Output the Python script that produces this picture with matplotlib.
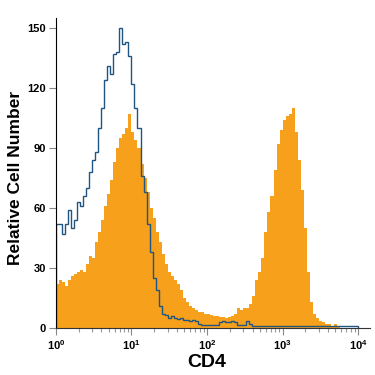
import numpy as np
import matplotlib
matplotlib.use("Agg")
import matplotlib.pyplot as plt
from matplotlib.ticker import LogLocator, LogFormatterMathtext, NullFormatter

plt.rcParams['font.family'] = ['Liberation Sans', 'DejaVu Sans']

# 100 channels, 25 per decade, from 10^0 to 10^4
edges = np.logspace(0, 4, 101)

# CD4 stained cells (orange, filled)
cd4 = [22, 24, 23, 21, 24, 26, 27, 28, 29, 28,
       32, 36, 35, 43, 48, 54, 61, 67, 74, 83,
       90, 95, 97, 100, 107, 98, 94, 90, 82, 75,
       68, 60, 55, 48, 43, 37, 32, 28, 26, 24,
       22, 19, 15, 13, 11, 10, 9, 8, 8, 7,
       7, 6.5, 6, 6, 5.5, 5.5, 5, 5.5, 6, 7,
       10, 9, 10, 10, 12, 16, 24, 28, 35, 48,
       58, 66, 79, 92, 99, 104, 106, 107, 110, 98,
       84, 69, 50, 28, 13, 7, 5, 3.5, 3, 2,
       2, 1, 2, 0.5, 0, 0, 0, 0, 0, 0]

# isotype control (blue outline)
isotype = [52, 52, 47, 52, 59, 50, 54, 63, 61, 66,
           70, 78, 84, 88, 100, 110, 124, 131, 127, 137,
           138, 150, 142, 143, 136, 122, 110, 100, 76, 68,
           52, 38, 25, 19, 11, 7, 6.5, 5, 6, 5,
           4.5, 5, 4, 4, 3.5, 4, 3.5, 2, 1.5, 1.5,
           1.5, 1.5, 1.5, 1.5, 3, 3.5, 3, 3, 3.5, 3,
           1.5, 1.5, 1.5, 3.5, 2, 1, 1, 1, 1, 1,
           1, 1, 1, 1, 1, 1, 1, 1, 1, 1,
           1, 1, 1, 1, 1, 1, 1, 1, 1, 1,
           1, 1, 1, 1, 1, 1, 1, 1, 1, 1]

fig = plt.figure(figsize=(3.75, 3.75), dpi=100)
ax = fig.add_axes([0.149, 0.125, 0.838, 0.827])

ax.stairs(cd4, edges, fill=True, color='#f6a01c', linewidth=0)
ax.stairs(isotype, edges, color='#1f5582', linewidth=1.0)

ax.set_xscale('log')
ax.set_xlim(1, 14400)
ax.set_ylim(0, 155)

ax.xaxis.set_major_locator(LogLocator(base=10, numticks=10))
ax.xaxis.set_major_formatter(LogFormatterMathtext())
ax.xaxis.set_minor_locator(LogLocator(base=10, subs=np.arange(2, 10), numticks=20))
ax.xaxis.set_minor_formatter(NullFormatter())
ax.set_yticks([0, 30, 60, 90, 120, 150])

for s in ['top', 'right']:
    ax.spines[s].set_visible(False)
ax.spines['left'].set_color('black')
ax.spines['bottom'].set_color('#333333')

ax.tick_params(axis='both', which='major', length=5, width=0.8, color='#888888',
               labelsize=8, pad=2)
ax.tick_params(axis='x', which='minor', length=3, width=0.8, color='#999999')
for lab in ax.get_xticklabels() + ax.get_yticklabels():
    lab.set_fontweight('bold')

ax.set_xlabel('CD4', fontsize=14, fontweight='bold')
ax.set_ylabel('Relative Cell Number', fontsize=12.5, fontweight='bold')
ax.xaxis.set_label_coords(0.481, -0.085)
ax.yaxis.set_label_coords(-0.105, 0.485)

fig.savefig('out.png', dpi=100)
